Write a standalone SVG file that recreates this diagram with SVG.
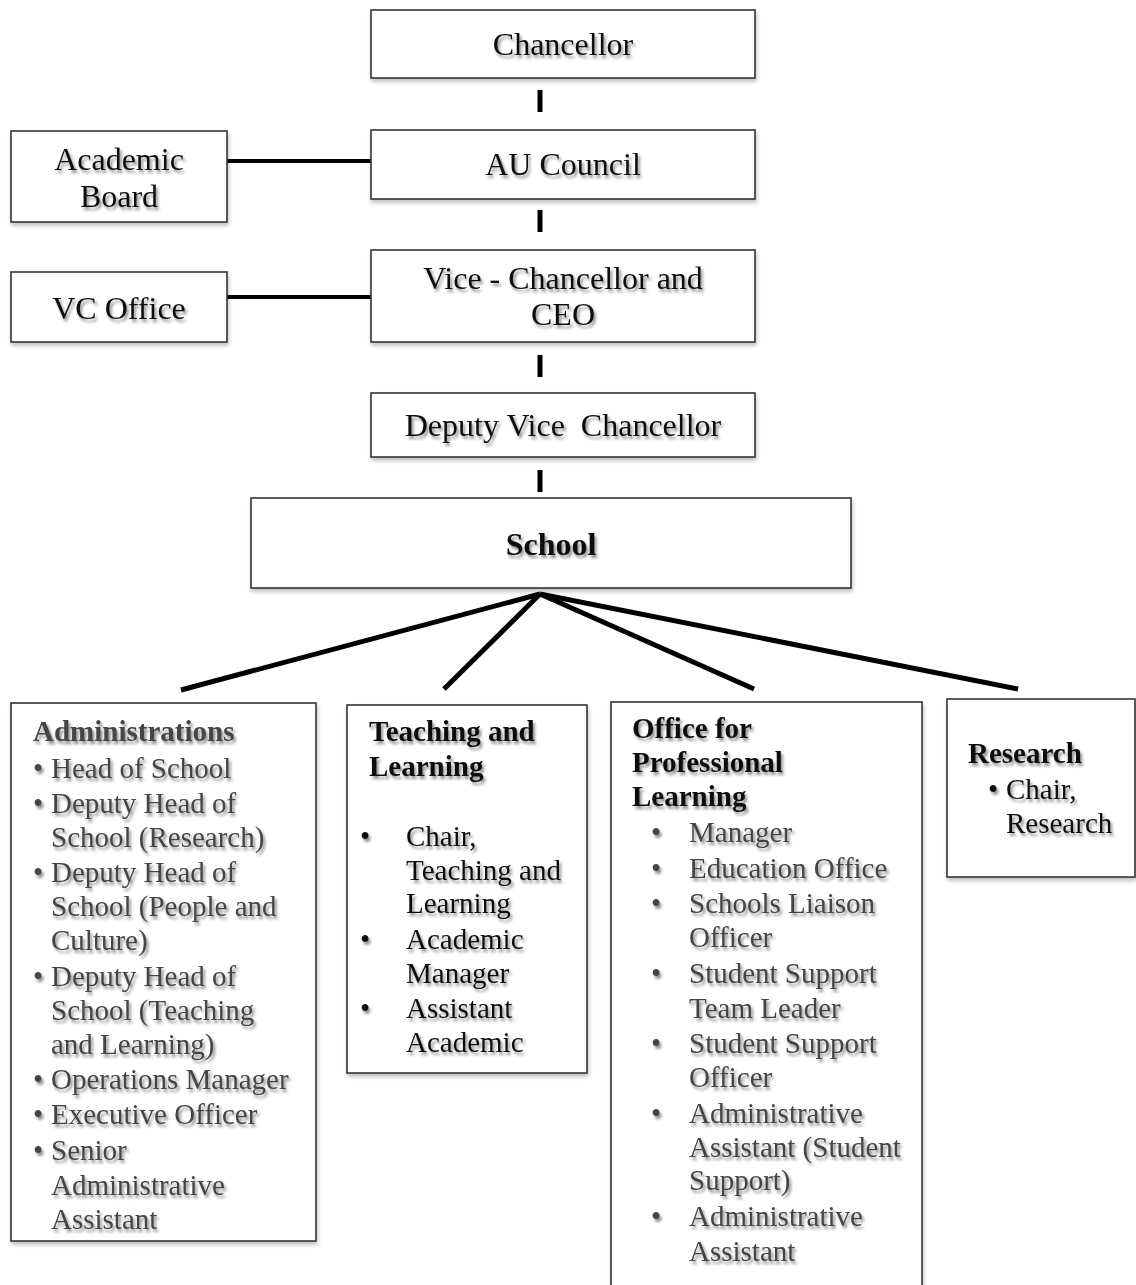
<svg xmlns="http://www.w3.org/2000/svg" width="1136" height="1285" viewBox="0 0 1136 1285">
  <defs>
    <filter id="txtShadow" x="-10%" y="-30%" width="130%" height="170%">
      <feDropShadow dx="2" dy="3" stdDeviation="1.6" flood-color="#000" flood-opacity="0.45"/>
    </filter>
    <filter id="boxShadow" x="-5%" y="-10%" width="110%" height="125%">
      <feDropShadow dx="1" dy="3" stdDeviation="2" flood-color="#000" flood-opacity="0.25"/>
    </filter>
  </defs>
  <style>
    .box { fill: #fff; stroke: #333; stroke-width: 1.6; filter: url(#boxShadow); }
    .t { font-family: "Liberation Serif", "Times New Roman", serif; filter: url(#txtShadow); }
    .top { font-size: 32px; fill: #111; text-anchor: middle; }
    .head { font-size: 29px; font-weight: bold; fill: #111; }
    .item { font-size: 29px; fill: #111; }
    .gray { fill: #444; }
    .conn { stroke: #000; fill: none; stroke-linecap: butt; }
  </style>

  <!-- connectors -->
  <g id="connectors">
    <line class="conn" x1="540" y1="90" x2="540" y2="112" stroke-width="5"/>
    <line class="conn" x1="540" y1="210" x2="540" y2="232" stroke-width="5"/>
    <line class="conn" x1="540" y1="355" x2="540" y2="377" stroke-width="5"/>
    <line class="conn" x1="540" y1="470" x2="540" y2="492" stroke-width="5"/>
    <line class="conn" x1="227" y1="161" x2="371" y2="161" stroke-width="4"/>
    <line class="conn" x1="227" y1="297" x2="371" y2="297" stroke-width="4"/>
    <line class="conn" x1="540" y1="594" x2="181" y2="690" stroke-width="5"/>
    <line class="conn" x1="540" y1="594" x2="444" y2="689" stroke-width="5"/>
    <line class="conn" x1="540" y1="594" x2="754" y2="689" stroke-width="5"/>
    <line class="conn" x1="540" y1="594" x2="1018" y2="689" stroke-width="5"/>
  </g>

  <g id="chancellor">
    <rect class="box" x="371" y="10" width="384" height="68"/>
    <text class="t top" x="563" y="55">Chancellor</text>
  </g>

  <g id="au-council">
    <rect class="box" x="371" y="130" width="384" height="69"/>
    <text class="t top" x="563" y="175">AU Council</text>
  </g>

  <g id="academic-board">
    <rect class="box" x="11" y="131" width="216" height="91"/>
    <text class="t top" x="119" y="170">Academic</text>
    <text class="t top" x="119" y="207">Board</text>
  </g>

  <g id="vc-office">
    <rect class="box" x="11" y="272" width="216" height="70"/>
    <text class="t top" x="119" y="319">VC Office</text>
  </g>

  <g id="vice-chancellor">
    <rect class="box" x="371" y="250" width="384" height="92"/>
    <text class="t top" x="563" y="289">Vice - Chancellor and</text>
    <text class="t top" x="563" y="325">CEO</text>
  </g>

  <g id="deputy-vc">
    <rect class="box" x="371" y="393" width="384" height="64"/>
    <text class="t top" x="563" y="436" xml:space="preserve">Deputy Vice  Chancellor</text>
  </g>

  <g id="school">
    <rect class="box" x="251" y="498" width="600" height="90"/>
    <text class="t top" x="551" y="555" font-weight="bold">School</text>
  </g>

  <g id="administrations">
    <rect class="box" x="11" y="703" width="305" height="538"/>
    <text class="t head gray" x="33" y="741">Administrations</text>
    <g class="t item gray">
      <text x="33" y="778">•</text><text x="51" y="778">Head of School</text>
      <text x="33" y="813">•</text><text x="51" y="813">Deputy Head of</text>
      <text x="51" y="847">School (Research)</text>
      <text x="33" y="882">•</text><text x="51" y="882">Deputy Head of</text>
      <text x="51" y="916">School (People and</text>
      <text x="51" y="950">Culture)</text>
      <text x="33" y="986">•</text><text x="51" y="986">Deputy Head of</text>
      <text x="51" y="1020">School (Teaching</text>
      <text x="51" y="1054">and Learning)</text>
      <text x="33" y="1089">•</text><text x="51" y="1089">Operations Manager</text>
      <text x="33" y="1124">•</text><text x="51" y="1124">Executive Officer</text>
      <text x="33" y="1160">•</text><text x="51" y="1160">Senior</text>
      <text x="51" y="1195">Administrative</text>
      <text x="51" y="1229">Assistant</text>
    </g>
  </g>

  <g id="teaching-learning">
    <rect class="box" x="347" y="705" width="240" height="368"/>
    <text class="t head" x="369" y="741">Teaching and</text>
    <text class="t head" x="369" y="776">Learning</text>
    <g class="t item">
      <text x="360" y="846">•</text><text x="406" y="846">Chair,</text>
      <text x="406" y="880">Teaching and</text>
      <text x="406" y="913">Learning</text>
      <text x="360" y="949">•</text><text x="406" y="949">Academic</text>
      <text x="406" y="983">Manager</text>
      <text x="360" y="1018">•</text><text x="406" y="1018">Assistant</text>
      <text x="406" y="1052">Academic</text>
    </g>
  </g>

  <g id="professional-learning">
    <rect class="box" x="611" y="702" width="311" height="600"/>
    <text class="t head" x="632" y="738">Office for</text>
    <text class="t head" x="632" y="772">Professional</text>
    <text class="t head" x="632" y="806">Learning</text>
    <g class="t item gray">
      <text x="651" y="842">•</text><text x="689" y="842">Manager</text>
      <text x="651" y="878">•</text><text x="689" y="878">Education Office</text>
      <text x="651" y="913">•</text><text x="689" y="913">Schools Liaison</text>
      <text x="689" y="947">Officer</text>
      <text x="651" y="983">•</text><text x="689" y="983">Student Support</text>
      <text x="689" y="1018">Team Leader</text>
      <text x="651" y="1053">•</text><text x="689" y="1053">Student Support</text>
      <text x="689" y="1087">Officer</text>
      <text x="651" y="1123">•</text><text x="689" y="1123">Administrative</text>
      <text x="689" y="1157">Assistant (Student</text>
      <text x="689" y="1190">Support)</text>
      <text x="651" y="1226">•</text><text x="689" y="1226">Administrative</text>
      <text x="689" y="1261">Assistant</text>
    </g>
  </g>

  <g id="research">
    <rect class="box" x="947" y="699" width="188" height="178"/>
    <text class="t head" x="968" y="763">Research</text>
    <g class="t item">
      <text x="988" y="799">•</text><text x="1006" y="799">Chair,</text>
      <text x="1006" y="833">Research</text>
    </g>
  </g>
</svg>
